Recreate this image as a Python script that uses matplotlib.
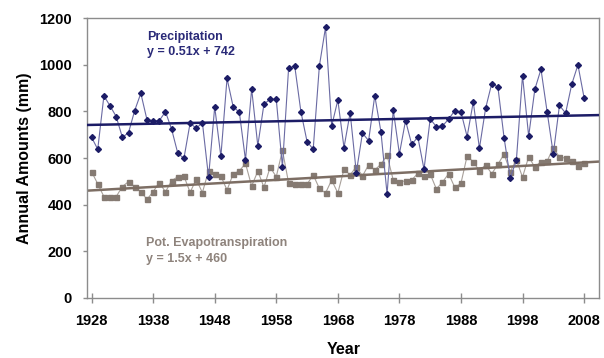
import numpy as np
import matplotlib
matplotlib.use("Agg")
import matplotlib.pyplot as plt

plt.rcParams['font.family'] = ['Liberation Sans', 'DejaVu Sans']

years = np.arange(1928, 2009)

precip = [
    689, 638, 867, 824, 778, 689, 709, 804, 878, 764,
    761, 761, 799, 724, 621, 599, 750, 728, 752, 518,
    820, 607, 942, 820, 797, 592, 897, 653, 832, 852,
    852, 563, 985, 995, 799, 671, 638, 995, 1161, 738,
    849, 645, 795, 538, 707, 675, 868, 713, 446, 807,
    618, 761, 659, 690, 552, 768, 735, 738, 767, 804,
    798, 692, 841, 642, 813, 920, 905, 688, 515, 590,
    954, 694, 895, 981, 798, 618, 826, 793, 917, 1000,
    859,
]

pet = [
    542, 489, 435, 435, 435, 478, 499, 478, 456, 423,
    456, 495, 455, 503, 520, 523, 453, 509, 452, 546,
    532, 523, 463, 532, 545, 577, 480, 544, 475, 561,
    520, 634, 494, 487, 487, 488, 528, 470, 450, 506,
    450, 552, 528, 563, 523, 571, 549, 574, 612, 506,
    499, 502, 506, 535, 525, 532, 468, 497, 533, 474,
    492, 609, 584, 546, 571, 533, 573, 617, 542, 593,
    518, 606, 561, 585, 587, 645, 604, 600, 588, 567,
    579,
]

# linear trends, x counted from 1 at the first year
precip_slope, precip_icpt = 0.51, 742
pet_slope, pet_icpt = 1.5, 460

navy = '#1c1c66'
navy_line = '#6a6aa3'
taupe = '#857a72'
taupe_line = '#a8a09a'

fig = plt.figure(figsize=(6.04, 3.58), dpi=100)
ax = fig.add_axes([0.1445, 0.1676, 0.848, 0.7815])

x0, x1 = 1927.3, 2010.5
tx = np.array([x0, x1])

ax.plot(years, precip, color=navy_line, lw=0.8, marker='D', ms=3.0,
        mfc=navy, mec=navy, zorder=3)
ax.plot(tx, precip_slope * (tx - 1927) + precip_icpt, color=navy, lw=1.8, zorder=4)

ax.plot(years, pet, color=taupe_line, lw=0.8, marker='s', ms=3.6,
        mfc=taupe, mec=taupe, zorder=2)
ax.plot(tx, pet_slope * (tx - 1927) + pet_icpt, color='#7d6e64', lw=1.8, zorder=2.5)

ax.set_xlim(x0, x1)
ax.set_ylim(0, 1200)
ax.set_xticks(np.arange(1928, 2009, 10))
ax.set_yticks(np.arange(0, 1201, 200))

for s in ax.spines.values():
    s.set_color('#8c8c8c')
    s.set_linewidth(1.0)

ax.tick_params(axis='x', direction='inout', length=7, width=1, color='#8c8c8c',
               pad=8, labelsize=10.5)
ax.tick_params(axis='y', direction='out', length=3, width=1, color='#8c8c8c',
               pad=8, labelsize=10.5)
for lab in ax.get_xticklabels() + ax.get_yticklabels():
    lab.set_fontweight('bold')

ax.set_xlabel('Year', fontsize=11.5, fontweight='bold', labelpad=10)
ax.set_ylabel('Annual Amounts (mm)', fontsize=11.5, fontweight='bold', labelpad=5)

ax.text(1937.0, 1118, 'Precipitation', color='#2a2a78', fontsize=9,
        fontweight='bold', va='center')
ax.text(1937.0, 1053, 'y = 0.51x + 742', color='#2a2a78', fontsize=9,
        fontweight='bold', va='center')
ax.text(1936.9, 236, 'Pot. Evapotranspiration', color='#8e837c', fontsize=9,
        fontweight='bold', va='center')
ax.text(1936.9, 168, 'y = 1.5x + 460', color='#8e837c', fontsize=9,
        fontweight='bold', va='center')

fig.savefig('out.png', dpi=100)
